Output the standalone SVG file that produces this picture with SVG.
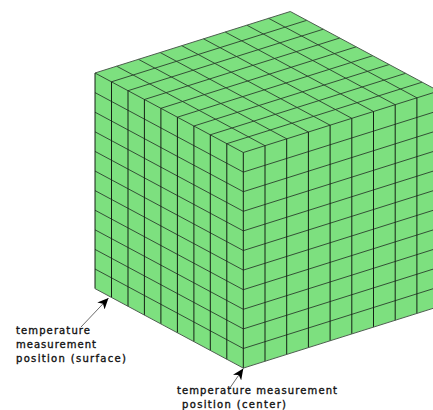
<svg xmlns="http://www.w3.org/2000/svg" width="433" height="410" viewBox="0 0 433 410">
<style>
.face{fill:#7de07f;stroke:none}
.grid{fill:none;stroke:#2a3f2c;stroke-width:.9}
.v{fill:none;stroke:#142014;stroke-width:1}
.edge{fill:none;stroke:#4d5f4f;stroke-width:1;stroke-linejoin:round}
text{font-family:"DejaVu Sans",sans-serif;font-size:10px;font-weight:normal;fill:#111;stroke:#111;stroke-width:.35}
.lead{fill:none;stroke:#444;stroke-width:.8}
</style>
<defs>
<marker id="ah" markerWidth="12" markerHeight="10" refX="11" refY="5" orient="auto" markerUnits="userSpaceOnUse">
<path d="M0 0L11 5L0 10L3 5Z" fill="#000"/>
</marker>
</defs>
<g id="cube">
<path class="face" d="M95 73L290.3 11.5L438.6 91V306.6L243.3 368.1L95 288.6Z"/>
<path class="grid" d="M95 73l148.3 79.5M95 92.6l148.3 79.5M95 112.2l148.3 79.5M95 131.8l148.3 79.5M95 151.4l148.3 79.5M95 171l148.3 79.5M95 190.6l148.3 79.5M95 210.2l148.3 79.5M95 229.8l148.3 79.5M95 249.4l148.3 79.5M95 269l148.3 79.5"/>
<path class="grid" d="M243.3 172.1l195.3 -61.5M243.3 191.7l195.3 -61.5M243.3 211.3l195.3 -61.5M243.3 230.9l195.3 -61.5M243.3 250.5l195.3 -61.5M243.3 270.1l195.3 -61.5M243.3 289.7l195.3 -61.5M243.3 309.3l195.3 -61.5M243.3 328.9l195.3 -61.5M243.3 348.5l195.3 -61.5"/>
<path class="grid" d="M116.7 66.2l148.3 79.5M138.4 59.3l148.3 79.5M160.1 52.5l148.3 79.5M181.8 45.7l148.3 79.5M203.5 38.8l148.3 79.5M225.2 32l148.3 79.5M246.9 25.2l148.3 79.5M268.6 18.3l148.3 79.5"/>
<path class="grid" d="M111.5 81.8l195.3 -61.5M128 90.7l195.3 -61.5M144.4 99.5l195.3 -61.5M160.9 108.3l195.3 -61.5M177.4 117.2l195.3 -61.5M193.9 126l195.3 -61.5M210.3 134.8l195.3 -61.5M226.8 143.7l195.3 -61.5M243.3 152.5l195.3 -61.5"/>
<path class="v" d="M95 73v215.6M111.5 81.8v215.6M128 90.7v215.6M144.4 99.5v215.6M160.9 108.3v215.6M177.4 117.2v215.6M193.9 126v215.6M210.3 134.8v215.6M226.8 143.7v215.6M243.3 152.5v215.6"/>
<path class="v" d="M265 145.7v215.6M286.7 138.8v215.6M308.4 132v215.6M330.1 125.2v215.6M351.8 118.3v215.6M373.5 111.5v215.6M395.2 104.7v215.6M416.9 97.8v215.6"/>
<path class="edge" d="M95 73L290.3 11.5L438.6 91"/>
<path class="edge" d="M95 288.6L243.3 368.1L438.6 306.6"/>
</g>
<g id="connectors">
<path class="lead" d="M81 327L108.5 298" marker-end="url(#ah)"/>
<path class="lead" d="M228.5 390L243.3 368.5" marker-end="url(#ah)"/>
</g>
<g id="label-surface">
<text x="16" y="334" textLength="74">temperature</text>
<text x="16" y="348" textLength="80">measurement</text>
<text x="16" y="362" textLength="110">position (surface)</text>
</g>
<g id="label-center">
<text x="177" y="394" textLength="160">temperature measurement</text>
<text x="182" y="408" textLength="104">position (center)</text>
</g>
</svg>
